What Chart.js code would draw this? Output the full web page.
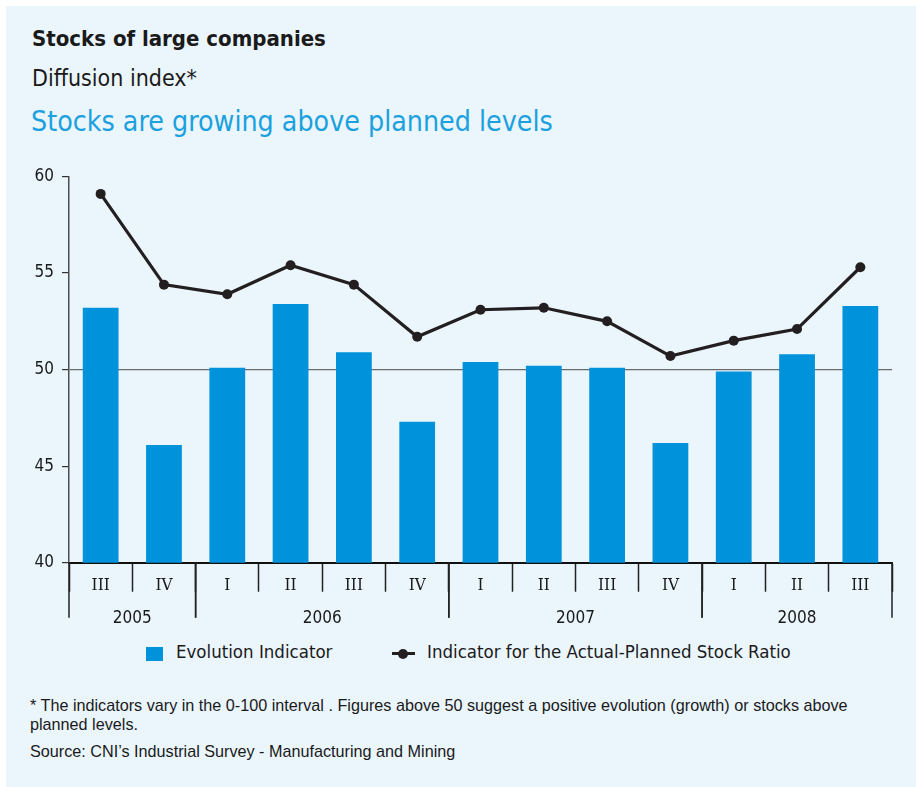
<!DOCTYPE html>
<html>
<head>
<meta charset="utf-8">
<script src="https://cdn.jsdelivr.net/npm/chart.js@4/dist/chart.umd.min.js"></script>
<style>
  html, body { margin: 0; padding: 0; background: #ffffff; }
  body { width: 916px; height: 787px; position: relative; overflow: hidden; }
  .panel { position: absolute; left: 6px; top: 6px; right: 0; bottom: 0; background: #eaf5fc; }
  .cond { font-family: "DejaVu Sans Condensed", "DejaVu Sans", sans-serif; font-stretch: condensed; }
  .txt { position: absolute; white-space: nowrap; color: #1a1a1a; }
  #title { left: 32px; top: 28px; font-size: 22px; line-height: 22px; font-weight: bold; }
  #subtitle { left: 32px; top: 67px; font-size: 23px; line-height: 23px; }
  #headline { left: 31px; top: 108px; font-size: 28.3px; line-height: 28.3px; color: #1ba1de; }
  #chartWrap { position: absolute; left: 0; top: 150px; }
  .legend-text { top: 643px; font-size: 18.5px; line-height: 18.5px; }
  #legBox { position: absolute; left: 146px; top: 647px; width: 17px; height: 14px; background: #0093dc; }
  #legLine { position: absolute; left: 392px; top: 652px; width: 23px; height: 3px; background: #231f20; }
  #legDot { position: absolute; left: 398px; top: 649px; width: 10px; height: 10px; border-radius: 50%; background: #231f20; }
  .note { font-family: "Liberation Sans", Arial, sans-serif; font-size: 16.2px; color: #1a1a1a; }
  #footnote { left: 30px; top: 696px; line-height: 18.5px; width: 830px; white-space: normal; }
  #source { left: 30px; top: 743px; line-height: 16px; }
</style>
</head>
<body>
<div class="panel"></div>
<div id="title" class="txt cond">Stocks of large companies</div>
<div id="subtitle" class="txt cond">Diffusion index*</div>
<div id="headline" class="txt cond">Stocks are growing above planned levels</div>
<div id="chartWrap"><canvas id="chart" width="916" height="490"></canvas></div>
<div id="legBox"></div>
<div id="legText1" class="txt cond legend-text" style="left:176px"></div>
<div id="legLine"></div><div id="legDot"></div>
<div id="legText2" class="txt cond legend-text" style="left:427px"></div>
<div id="footnote" class="txt note">* The indicators vary in the 0-100 interval . Figures above 50 suggest a positive evolution (growth) or stocks above planned levels.</div>
<div id="source" class="txt note">Source: CNI’s Industrial Survey - Manufacturing and Mining</div>

<script>
// quarters from 2005-III to 2008-III
const quarters = ['III', 'IV', 'I', 'II', 'III', 'IV', 'I', 'II', 'III', 'IV', 'I', 'II', 'III'];
const years = ['2005', '2006', '2007', '2008'];
const quartersPerYear = [2, 4, 4, 3];

const evolutionIndicator = [53.2, 46.1, 50.1, 53.4, 50.9, 47.3, 50.4, 50.2, 50.1, 46.2, 49.9, 50.8, 53.3];
const stockRatioIndicator = [59.1, 54.4, 53.9, 55.4, 54.4, 51.7, 53.1, 53.2, 52.5, 50.7, 51.5, 52.1, 55.3];

const yMin = 40;
const yMax = 60;
const yStep = 5;
const referenceLevel = 50;

const seriesNames = ['Evolution Indicator', 'Indicator for the Actual-Planned Stock Ratio'];

const BLUE = '#0093dc';
const DARK = '#231f20';
const COND = '"DejaVu Sans Condensed", "DejaVu Sans", sans-serif';
const SERIF = '"DejaVu Serif Condensed", "DejaVu Serif", serif';

document.getElementById('legText1').textContent = seriesNames[0];
document.getElementById('legText2').textContent = seriesNames[1];

// second row of the x axis: years with long separators
const yearRow = {
  id: 'yearRow',
  afterDraw(chart) {
    const x = chart.scales.x;
    const ctx = chart.ctx;
    const half = (x.getPixelForValue(1) - x.getPixelForValue(0)) / 2;
    const top = chart.chartArea.bottom;
    ctx.save();
    ctx.strokeStyle = '#222';
    ctx.lineWidth = 1.5;
    ctx.fillStyle = '#1a1a1a';
    ctx.font = '17px ' + COND;
    ctx.textAlign = 'center';
    ctx.textBaseline = 'alphabetic';
    let start = 0;
    years.forEach((yr, i) => {
      const end = start + quartersPerYear[i];
      const left = x.getPixelForValue(start) - half;
      const right = x.getPixelForValue(end - 1) + half;
      [left, right].forEach(px => {
        ctx.beginPath();
        ctx.moveTo(px, top);
        ctx.lineTo(px, top + 55);
        ctx.stroke();
      });
      ctx.fillText(yr, (left + right) / 2, top + 60);
      start = end;
    });
    ctx.restore();
  }
};

new Chart(document.getElementById('chart'), {
  data: {
    labels: quarters,
    datasets: [
      {
        type: 'line',
        label: seriesNames[1],
        data: stockRatioIndicator,
        borderColor: DARK,
        backgroundColor: DARK,
        borderWidth: 3.2,
        pointRadius: 5,
        pointBackgroundColor: DARK,
        pointBorderWidth: 0,
        tension: 0,
        order: 0
      },
      {
        type: 'bar',
        label: seriesNames[0],
        data: evolutionIndicator,
        backgroundColor: BLUE,
        categoryPercentage: 1,
        barPercentage: 0.565,
        order: 1
      }
    ]
  },
  options: {
    responsive: false,
    devicePixelRatio: 1,
    animation: false,
    layout: { padding: { top: 26.5, right: 24, left: 0, bottom: 0 } },
    plugins: {
      legend: { display: false },
      tooltip: { enabled: false }
    },
    scales: {
      x: {
        type: 'category',
        offset: true,
        afterFit: s => { s.height = 77.3; },
        grid: {
          offset: true,
          drawOnChartArea: false,
          drawTicks: true,
          tickLength: 29,
          tickColor: '#222',
          tickWidth: 1.5
        },
        border: { color: '#111', width: 2 },
        ticks: {
          font: { family: SERIF, size: 17 },
          color: '#1a1a1a',
          padding: -16,
          maxRotation: 0,
          autoSkip: false
        }
      },
      y: {
        min: yMin,
        max: yMax,
        afterFit: s => { s.width = 69; },
        afterBuildTicks: s => {
          const t = [];
          for (let v = yMin; v <= yMax; v += yStep) t.push({ value: v });
          s.ticks = t;
        },
        grid: {
          drawTicks: true,
          tickLength: 7,
          tickColor: '#333',
          tickWidth: 1.2,
          lineWidth: 1.2,
          color: c => (c.tick && c.tick.value === referenceLevel) ? '#6b6b6b' : 'rgba(0,0,0,0)'
        },
        border: { color: '#4d4d4d', width: 1.5 },
        ticks: {
          font: { family: COND, size: 17 },
          color: '#1a1a1a',
          padding: 8
        }
      }
    }
  },
  plugins: [yearRow]
});
</script>
</body>
</html>
